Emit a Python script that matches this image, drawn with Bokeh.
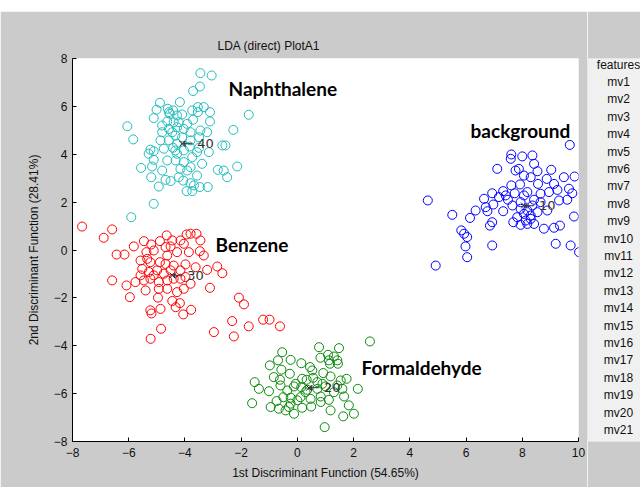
from bokeh.plotting import figure
from bokeh.layouts import column, row
from bokeh.models import Range1d, FixedTicker
from bokeh.core.properties import value
from bokeh.embed import file_html
from bokeh.resources import INLINE

# ---------------- data ----------------
naph_x = [-3.45, -3.05, -3.47, -3.71, -4.89, -4.18, -1.73, -6.05, -5.84, -2.28,
          -5.11, -5.01, -4.61, -4.42, -4.54, -4.28, -4.10, -3.74, -3.54, -3.33,
          -3.54, -3.11, -3.11, -3.71, -4.63, -4.40, -4.81, -4.57, -4.81, -4.28,
          -4.04, -3.80, -3.45, -3.21, -3.50, -4.34, -4.57, -4.28, -4.42, -4.75,
          -5.23, -5.11, -5.29, -3.83, -3.50, -3.15, -2.67, -2.56, -4.04, -4.28,
          -4.63, -5.11, -5.17, -5.56, -4.33, -4.04, -3.74, -3.39, -3.92, -3.80,
          -2.83, -2.62, -2.14, -2.50, -5.20, -4.69, -4.51, -4.93, -4.22, -4.06,
          -3.80, -3.68, -3.47, -3.19, -3.94, -3.74, -5.11, -5.91, -4.57, -4.22,
          -3.92, -4.10, -4.45, -4.87, -3.80, -4.34, -3.57, -4.81, -4.16, -3.57]
naph_y = [7.39, 7.29, 6.83, 6.64, 6.15, 6.18, 5.65, 5.17, 4.62, 5.02,
          5.51, 5.86, 5.90, 5.83, 5.69, 5.62, 5.66, 5.83, 5.97, 5.97,
          5.76, 5.76, 5.37, 5.44, 5.37, 5.34, 5.20, 5.06, 4.92, 5.13,
          5.06, 4.92, 4.99, 4.92, 4.71, 4.78, 4.58, 4.44, 4.27, 4.23,
          4.19, 4.13, 4.02, 4.32, 4.27, 4.09, 4.37, 4.37, 4.16, 4.02,
          3.74, 3.77, 3.49, 3.43, 3.74, 3.67, 3.88, 3.60, 3.32, 3.46,
          3.35, 3.32, 3.49, 3.04, 3.04, 2.93, 2.88, 2.65, 3.04, 2.90,
          2.79, 2.70, 2.63, 2.63, 2.46, 2.46, 1.93, 1.37, 5.76, 5.34,
          5.27, 4.71, 4.92, 4.58, 4.58, 4.16, 4.09, 3.32, 3.39, 3.11]

benz_x = [-7.66, -6.89, -6.59, -6.43, -6.15, -6.59, -6.08, -5.96, -5.82, -5.46,
          -5.20, -4.89, -4.65, -4.45, -4.16, -3.94, -3.80, -3.59, -3.45, -4.04,
          -4.51, -5.37, -5.11, -4.63, -4.28, -3.86, -3.47, -3.33, -5.58, -5.23,
          -4.89, -4.40, -3.98, -3.62, -3.21, -2.85, -2.67, -5.52, -5.28, -4.99,
          -4.75, -5.23, -5.46, -4.93, -4.63, -4.40, -4.16, -3.98, -3.80, -4.04,
          -4.28, -4.63, -4.93, -5.40, -5.76, -4.96, -4.45, -4.18, -4.87, -5.23,
          -4.06, -3.78, -3.11, -2.08, -1.90, -2.32, -1.73, -1.22, -0.99, -0.62,
          -2.97, -2.26, -4.85, -5.22, -4.69, -4.51, -5.11, -5.58, -4.16, -4.69,
          -5.34, -4.33, -5.19]
benz_y = [0.98, 0.51, 0.86, -0.19, -0.19, -1.27, -1.48, -1.97, 0.15, 0.37,
          0.23, 0.37, 0.61, 0.40, 0.40, 0.65, 0.68, 0.68, 0.40, 0.26,
          0.15, -0.09, -0.02, -0.23, -0.09, -0.09, -0.05, -0.23, -0.44, -0.51,
          -0.51, -0.65, -0.60, -0.72, -0.83, -0.69, -0.97, -0.79, -0.92, -0.85,
          -0.99, -1.20, -1.27, -1.34, -1.27, -1.20, -1.20, -1.13, -1.41, -1.62,
          -1.76, -1.62, -1.62, -1.69, -1.34, -1.99, -2.13, -2.22, -2.46, -2.52,
          -2.69, -2.50, -1.58, -1.99, -2.27, -2.97, -3.19, -2.91, -2.91, -3.19,
          -3.43, -3.61, -3.29, -3.71, -0.58, -0.85, -1.06, -1.06, -0.85, 0.12,
          -0.37, -2.39, -2.65]

form_x = [2.58, 0.77, 1.48, 1.09, 1.30, 0.82, 1.16, 1.44, -0.54, -0.24,
          -0.69, -0.98, 0.14, 0.45, -0.57, -0.27, 0.92, 1.18, 1.75, 0.17,
          0.56, -0.62, -1.52, -1.37, -1.01, -1.61, -0.12, 0.14, -0.36, 0.35,
          0.71, 1.00, 1.42, 1.60, 2.15, -0.50, -0.24, 0.11, 0.47, 0.83,
          1.12, 1.66, -0.74, -0.66, -0.30, -0.12, 0.17, 0.49, 1.18, 1.83,
          1.63, 2.01, 0.97, 0.33, 0.71, -0.84, 0.00, -0.42, 0.29, 1.30,
          -0.60, 0.53, -0.24, -0.95, 0.83, 1.54, 1.12, 1.42, -0.06, 0.89]
form_y = [-3.82, -4.06, -4.10, -4.38, -4.45, -4.50, -4.75, -4.75, -4.27, -4.59,
          -4.61, -4.82, -4.73, -4.89, -5.00, -5.17, -5.14, -5.28, -5.38, -5.38,
          -5.34, -5.42, -5.52, -5.80, -5.90, -6.40, -5.70, -5.73, -5.87, -5.84,
          -5.80, -5.70, -5.66, -5.80, -5.80, -6.15, -6.17, -6.15, -6.22, -6.12,
          -6.26, -6.12, -6.31, -6.63, -6.56, -6.84, -6.59, -6.54, -6.70, -6.49,
          -6.95, -6.84, -7.40, -5.42, -5.52, -5.31, -6.28, -6.70, -5.94, -5.94,
          -5.66, -5.03, -6.42, -6.56, -6.35, -5.45, -4.61, -4.61, -5.59, -5.59]

back_x = [9.69, 7.61, 8.00, 8.36, 7.59, 7.11, 7.88, 8.42, 8.54, 9.03,
          8.06, 8.30, 9.48, 9.86, 8.87, 7.61, 7.92, 8.56, 7.32, 6.93,
          6.64, 7.73, 8.18, 8.95, 9.25, 9.66, 9.78, 4.64, 6.97, 7.49,
          7.65, 7.94, 8.42, 8.65, 9.31, 9.60, 6.70, 6.34, 5.51, 6.14,
          6.76, 7.32, 8.18, 8.54, 8.89, 9.84, 6.93, 6.85, 7.68, 7.94,
          8.18, 8.42, 8.77, 9.13, 9.34, 5.83, 5.93, 6.04, 5.98, 6.93,
          9.19, 9.72, 10.02, 6.04, 4.92, 8.06, 8.30, 7.82, 7.94, 8.36,
          7.41, 7.17, 8.06, 8.65, 9.13, 8.12, 8.30, 7.76]
back_y = [4.39, 3.99, 3.91, 3.95, 3.81, 3.39, 3.39, 3.60, 3.29, 3.35,
          3.11, 3.04, 3.04, 3.07, 2.97, 2.70, 2.74, 2.76, 2.46, 2.37,
          2.14, 2.37, 2.42, 2.42, 2.51, 2.56, 2.37, 2.07, 1.90, 2.10,
          1.86, 2.00, 2.10, 2.00, 2.07, 2.10, 1.79, 1.65, 1.47, 1.34,
          1.62, 1.62, 1.65, 1.58, 1.65, 1.40, 1.16, 1.02, 1.16, 1.05,
          1.09, 1.09, 0.89, 0.93, 1.02, 0.82, 0.68, 0.54, 0.15, 0.19,
          0.26, 0.19, -0.09, -0.30, -0.65, 1.51, 1.44, 1.37, 1.72, 1.86,
          2.28, 2.21, 2.28, 2.35, 2.76, 1.23, 1.30, 3.32]

class_names = ["Naphthalene", "Benzene", "background", "Formaldehyde"]
centroid_x = [-4.10, -4.45, 8.06, 0.41]
centroid_y = [4.44, -1.06, 1.86, -5.76]
centroid_ids = ["40", "30", "10", "20"]

x_ticks = [-8, -6, -4, -2, 0, 2, 4, 6, 8, 10]
y_ticks = [-8, -6, -4, -2, 0, 2, 4, 6, 8]
features = ["features"] + ["mv%d" % i for i in range(1, 22)]

# ---------------- styling / layout constants ----------------
GRAY = "#cbcbcb"
FONT = "Liberation Sans"
colors = ["#22bdbd", "#ff0000", "#0000ff", "#0a8a0a"]
label_pos = [(-2.45, 6.75), (-2.91, 0.23), (6.16, 5.01), (2.28, -4.91)]

p = figure(width=587, height=476, x_range=Range1d(-8, 10), y_range=Range1d(-8, 8),
           output_backend="svg", toolbar_location=None,
           min_border_left=72, min_border_right=9, min_border_top=47, min_border_bottom=46)
p.background_fill_color = "white"
p.border_fill_color = GRAY
p.outline_line_color = None
p.grid.visible = False

p.title.text = "LDA (direct) PlotA1"
p.title.align = "left"
p.title.offset = 145
p.title.vertical_align = "middle"
p.title.text_font = FONT
p.title.text_font_style = "normal"
p.title.text_font_size = "12px"
p.title.text_color = "#111111"

p.xaxis.ticker = FixedTicker(ticks=x_ticks)
p.yaxis.ticker = FixedTicker(ticks=y_ticks)
p.xaxis.axis_label = "1st Discriminant Function (54.65%)"
p.yaxis.axis_label = "2nd Discriminant Function (28.41%)"
for ax in (p.xaxis, p.yaxis):
    ax.major_tick_in = 4
    ax.major_tick_out = 0
    ax.minor_tick_line_color = None
    ax.axis_line_color = "black"
    ax.major_tick_line_color = "black"
    ax.major_label_text_font = FONT
    ax.major_label_text_font_size = "12px"
    ax.major_label_text_color = "#111111"
    ax.axis_label_text_font = FONT
    ax.axis_label_text_font_size = "12px"
    ax.axis_label_text_font_style = "normal"
    ax.axis_label_text_color = "#111111"
p.xaxis.major_label_standoff = 6
p.xaxis.axis_label_standoff = 6
p.yaxis.major_label_standoff = 5
p.yaxis.axis_label_standoff = 10

series = [(naph_x, naph_y), (benz_x, benz_y), (back_x, back_y), (form_x, form_y)]
for (xs, ys), c in zip(series, colors):
    p.scatter(xs, ys, marker="circle", size=9, fill_color=None, line_color=c, line_width=1)

p.scatter(centroid_x, centroid_y, marker="x", size=8, line_color="#222222", line_width=1)
p.text(centroid_x, centroid_y, text=["\u2190 " + s for s in centroid_ids],
       text_font=value("DejaVu Sans"), text_font_size="13px", text_color="#333333",
       text_align="left", text_baseline="middle")

p.text([lp[0] for lp in label_pos], [lp[1] for lp in label_pos], text=class_names,
       text_font=value("Lato"), text_font_style="bold", text_font_size="19px",
       text_color="black", text_align="left", text_baseline="middle")

# top white strip
top = figure(width=640, height=11, output_backend="svg", toolbar_location=None,
             min_border=0, x_axis_location=None, y_axis_location=None)
top.outline_line_color = None
top.grid.visible = False
top.border_fill_color = "white"
top.background_fill_color = "white"
top.x_range = Range1d(0, 1)
top.y_range = Range1d(0, 1)

# feature list panel; frame aligned with the main frame, y in page pixels (58..441)
lst = figure(width=53, height=476, x_range=Range1d(587, 640), y_range=Range1d(441, 58),
             output_backend="svg", toolbar_location=None,
             min_border_left=0, min_border_right=0, min_border_top=47, min_border_bottom=46,
             x_axis_location=None, y_axis_location=None)
lst.outline_line_color = None
lst.grid.visible = False
lst.background_fill_color = GRAY
lst.border_fill_color = GRAY
lst.quad(left=[587], right=[645], top=[50], bottom=[442], fill_color="#f0f0f0", line_color=None)
fy = [64 + 17.4 * i for i in range(len(features))]
lst.text([618] * len(features), fy, text=features, text_font=value(FONT), text_font_size="12px",
         text_color="#111111", text_align="center", text_baseline="middle")

layout = column(top, row(p, lst, spacing=0), spacing=0)
open("out.html", "w").write(file_html(layout, INLINE))
